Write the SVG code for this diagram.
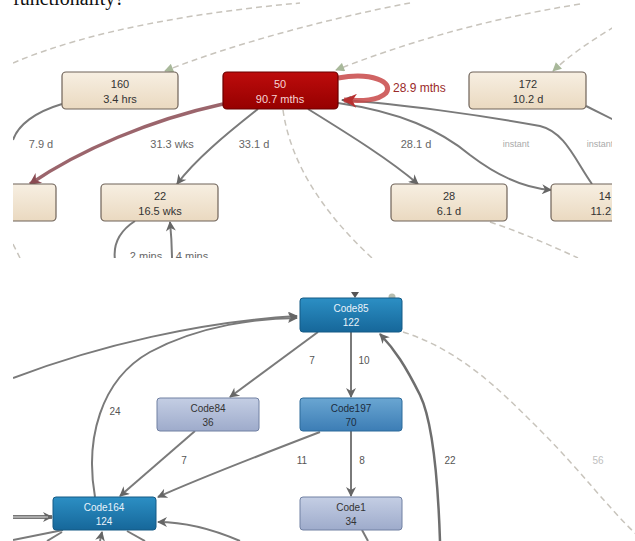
<svg xmlns="http://www.w3.org/2000/svg" width="635" height="541" viewBox="0 0 635 541">
<style>
.t{font-family:"Liberation Sans",Arial,sans-serif;text-anchor:middle}
.nt{font-size:11px;fill:#333}
.lb{font-size:11px;fill:#666}
.li{font-size:9px;fill:#aaa}
.bl{font-size:10px;fill:#555}
.e{fill:none;stroke:#7a7a7a;stroke-width:2}
.d{fill:none;stroke:#c8c4bc;stroke-width:1.5;stroke-dasharray:6 4}
.tan{fill:url(#gTan);stroke:#6e6258;stroke-width:1.2}
.blue{fill:url(#gBlue);stroke:#155a85;stroke-width:1}
.mid{fill:url(#gMid);stroke:#2d6a9a;stroke-width:1}
.lite{fill:url(#gLite);stroke:#7080a2;stroke-width:1}
</style>
<defs>
<linearGradient id="gTan" x1="0" y1="0" x2="0" y2="1"><stop offset="0" stop-color="#f7efe2"/><stop offset="1" stop-color="#ead9c0"/></linearGradient>
<linearGradient id="gRed" x1="0" y1="0" x2="0" y2="1"><stop offset="0" stop-color="#bd0c0c"/><stop offset="1" stop-color="#960000"/></linearGradient>
<linearGradient id="gBlue" x1="0" y1="0" x2="0" y2="1"><stop offset="0" stop-color="#2c8fc4"/><stop offset="1" stop-color="#16679a"/></linearGradient>
<linearGradient id="gMid" x1="0" y1="0" x2="0" y2="1"><stop offset="0" stop-color="#6aa6d2"/><stop offset="1" stop-color="#3c7db5"/></linearGradient>
<linearGradient id="gLite" x1="0" y1="0" x2="0" y2="1"><stop offset="0" stop-color="#c4cee4"/><stop offset="1" stop-color="#9eabcb"/></linearGradient>
<marker id="ag" viewBox="0 0 10 10" refX="9" refY="5" markerWidth="6" markerHeight="6" orient="auto" markerUnits="userSpaceOnUse"><path d="M0,0 L10,5 L0,10 z" fill="#6e6e6e"/></marker>
<marker id="agb" viewBox="0 0 10 10" refX="9" refY="5" markerWidth="12" markerHeight="10" orient="auto" markerUnits="userSpaceOnUse"><path d="M0,0 L10,5 L0,10 L3,5 z" fill="#666"/></marker>
<marker id="ar" viewBox="0 0 10 10" refX="9" refY="5" markerWidth="14" markerHeight="12" orient="auto" markerUnits="userSpaceOnUse"><path d="M0,0 L10,5 L0,10 L3,5 z" fill="#8a4a52"/></marker>
<marker id="arr" viewBox="0 0 10 10" refX="9" refY="5" markerWidth="16" markerHeight="14" orient="auto" markerUnits="userSpaceOnUse"><path d="M0,0 L10,5 L0,10 L3,5 z" fill="#b83030"/></marker>
<marker id="agr" viewBox="0 0 10 10" refX="9" refY="5" markerWidth="10" markerHeight="9" orient="auto" markerUnits="userSpaceOnUse"><path d="M0,0 L10,5 L0,10 z" fill="#a8b89a"/></marker>
<clipPath id="cTop"><rect x="13" y="0" width="599" height="258"/></clipPath>
<clipPath id="cBot"><rect x="13" y="288" width="622" height="253"/></clipPath>
</defs>
<rect width="635" height="541" fill="#fff"/>
<text x="13" y="5" font-family="Liberation Serif,serif" font-size="20" fill="#111">functionality?</text>

<g clip-path="url(#cTop)">
<g id="connectors-top">
<path class="d" d="M13,63 C90,30 200,12 300,3"/>
<path class="d" d="M410,3 C330,18 230,45 165,71" marker-end="url(#agr)"/>
<path class="d" d="M580,4 C480,20 400,45 336,70" marker-end="url(#agr)"/>
<path class="d" d="M614,27 C592,40 570,55 553,71" marker-end="url(#agr)"/>
<path class="d" d="M283,110 C290,160 320,210 372,258"/>
<path class="d" d="M490,222 C520,232 550,245 578,258"/>
<path class="d" d="M13,244 L20,258"/>
<path d="M223,104 C150,120 80,150 30,184" fill="none" stroke="#8a4a52" stroke-width="3.5" stroke-opacity="0.85" marker-end="url(#ar)"/>
<path class="e" d="M62,104 C35,112 18,125 13,140"/>
<path class="e" d="M258,109 C225,135 195,160 177,184" marker-end="url(#agb)"/>
<path class="e" d="M308,109 C350,135 390,160 418,184" marker-end="url(#agb)"/>
<path class="e" d="M338,103 C400,112 440,130 470,155 C500,178 525,188 551,190" marker-end="url(#agb)"/>
<path class="e" d="M592,184 C575,160 565,132 540,126 C480,115 400,104 342,100" marker-end="url(#agb)"/>
<path class="e" d="M586,106 L614,120"/>
<path class="e" d="M135,221 C118,232 113,245 115,260"/>
<path class="e" d="M172,260 C172,245 171,232 170,222" marker-end="url(#agb)"/>
<path d="M338,78 C372,72 394,82 386,93 C378,101 362,101 344,100" fill="none" stroke="#c84848" stroke-width="5" stroke-opacity="0.85" marker-end="url(#arr)"/>
</g>
<g id="labels-top">
<text class="t lb" x="41" y="148">7.9 d</text>
<text class="t lb" x="172" y="148">31.3 wks</text>
<text class="t lb" x="254" y="148">33.1 d</text>
<text class="t lb" x="416" y="148">28.1 d</text>
<text class="t li" x="516" y="147">instant</text>
<text class="t li" x="600" y="147">instant</text>
<text x="393" y="92" font-family="Liberation Sans,Arial,sans-serif" font-size="12" fill="#9a2a2a">28.9 mths</text>
<text class="t lb" x="146" y="260">2 mins</text>
<text class="t lb" x="192" y="260">4 mins</text>
</g>
<g id="n160"><rect class="tan" x="62" y="72" width="116" height="37" rx="4"/><text class="t nt" x="120" y="88">160</text><text class="t nt" x="120" y="103">3.4 hrs</text></g>
<g id="n50"><rect x="223" y="72" width="115" height="37" rx="4" fill="url(#gRed)" stroke="#6a0000" stroke-width="1.2"/><text class="t" x="280" y="88" font-size="11" fill="#f6d4d4">50</text><text class="t" x="280" y="103" font-size="11" fill="#f6d4d4">90.7 mths</text></g>
<g id="n172"><rect class="tan" x="469" y="72" width="117" height="37" rx="4"/><text class="t nt" x="528" y="88">172</text><text class="t nt" x="528" y="103">10.2 d</text></g>
<g id="nLeft"><rect class="tan" x="-60" y="184" width="116" height="37" rx="4"/></g>
<g id="n22"><rect class="tan" x="101" y="184" width="117" height="37" rx="4"/><text class="t nt" x="160" y="200">22</text><text class="t nt" x="160" y="215">16.5 wks</text></g>
<g id="n28"><rect class="tan" x="391" y="184" width="116" height="37" rx="4"/><text class="t nt" x="449" y="200">28</text><text class="t nt" x="449" y="215">6.1 d</text></g>
<g id="n14"><rect class="tan" x="551" y="184" width="116" height="37" rx="4"/><text class="nt" x="611" y="200" font-family="Liberation Sans,Arial,sans-serif" text-anchor="end">14</text><text class="nt" x="611" y="215" font-family="Liberation Sans,Arial,sans-serif" text-anchor="end">11.2</text></g>
</g>

<g clip-path="url(#cBot)">
<g id="connectors-bottom">
<path class="d" d="M403,332 C460,350 500,390 540,430 C580,470 610,510 636,534"/>
<path class="e" d="M13,378 C100,345 200,322 297,316" marker-end="url(#agb)"/>
<path class="e" d="M95,497 C85,440 100,380 150,352 C200,325 260,318 297,318" marker-end="url(#agb)"/>
<path class="e" d="M318,332 L230,397" marker-end="url(#agb)"/>
<path class="e" d="M351,332 L351,397" marker-end="url(#agb)"/>
<path class="e" d="M195,431 L120,496" marker-end="url(#agb)"/>
<path class="e" d="M320,432 C260,455 200,478 158,497" marker-end="url(#agb)"/>
<path class="e" d="M351,431 L351,496" marker-end="url(#agb)"/>
<path d="M440,541 C438,480 432,420 420,395 C405,365 395,350 380,334" fill="none" stroke="#6e6e6e" stroke-width="2.5" marker-end="url(#agb)"/>
<path d="M13,517 L52,517" fill="none" stroke="#777" stroke-width="4" marker-end="url(#agb)"/>
<path d="M13,517 L48,517" fill="none" stroke="#ddd" stroke-width="1"/>
<path class="e" d="M13,540 L63,530"/>
<path class="e" d="M47,541 L62,532"/>
<path class="e" d="M100,541 L102,532" marker-end="url(#agb)"/>
<path class="e" d="M127,531 L145,541"/>
<path class="e" d="M240,541 C210,528 180,522 158,522" marker-end="url(#agb)"/>
<path class="e" d="M362,530 L368,541"/>
<path d="M351,292 L359,292 L355,298 z" fill="#555"/>
<circle cx="392" cy="297" r="3.5" fill="#b8beb0"/>
</g>
<g id="labels-bottom">
<text class="t bl" x="312" y="364">7</text>
<text class="t bl" x="364" y="364">10</text>
<text class="t bl" x="115" y="415">24</text>
<text class="t bl" x="184" y="464">7</text>
<text class="t bl" x="302" y="464">11</text>
<text class="t bl" x="362" y="464">8</text>
<text class="t bl" x="450" y="464">22</text>
<text class="t" x="598" y="464" font-size="10" fill="#c0c0c0">56</text>
</g>
<g id="code85"><rect class="blue" x="300" y="298" width="102" height="34" rx="3"/><text class="t" x="351" y="312" font-size="10" fill="#e8f2fa">Code85</text><text class="t" x="351" y="326" font-size="10" fill="#e8f2fa">122</text></g>
<g id="code84"><rect class="lite" x="157" y="398" width="102" height="33" rx="3"/><text class="t" x="208" y="412" font-size="10" fill="#333">Code84</text><text class="t" x="208" y="426" font-size="10" fill="#333">36</text></g>
<g id="code197"><rect class="mid" x="300" y="398" width="102" height="33" rx="3"/><text class="t" x="351" y="412" font-size="10" fill="#1c2c40">Code197</text><text class="t" x="351" y="426" font-size="10" fill="#1c2c40">70</text></g>
<g id="code1"><rect class="lite" x="300" y="497" width="102" height="33" rx="3"/><text class="t" x="351" y="511" font-size="10" fill="#333">Code1</text><text class="t" x="351" y="525" font-size="10" fill="#333">34</text></g>
<g id="code164"><rect class="blue" x="53" y="497" width="103" height="33" rx="3"/><text class="t" x="104" y="511" font-size="10" fill="#e8f2fa">Code164</text><text class="t" x="104" y="525" font-size="10" fill="#e8f2fa">124</text></g>
</g>
</svg>
